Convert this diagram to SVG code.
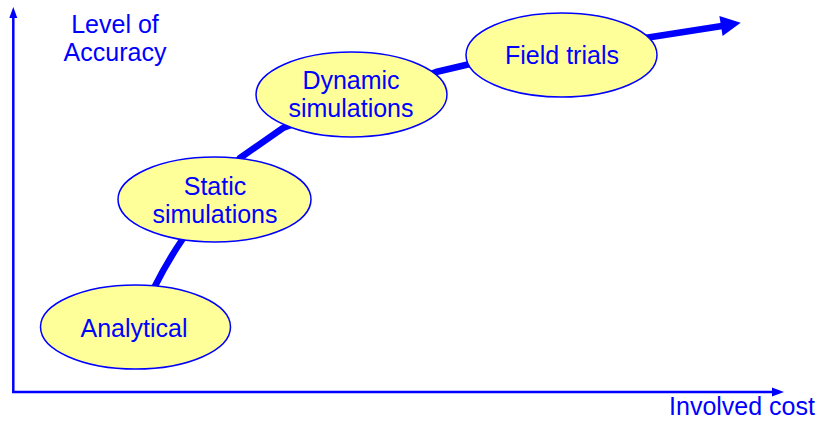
<svg xmlns="http://www.w3.org/2000/svg" width="820" height="421" viewBox="0 0 820 421">
<style>
.t{font-family:"Liberation Sans",Arial,sans-serif;font-size:25px;fill:#0000FF;text-anchor:middle}
.n{fill:#FFFF99;stroke:#0000FF;stroke-width:1.5}
.ax{stroke:#0000FF;stroke-width:2.5;fill:none}
</style>
<rect width="820" height="421" fill="#FFFFFF"/>
<g id="axes">
<line class="ax" x1="13.3" y1="392" x2="13.3" y2="15"/>
<polygon points="13.3,7 9.3,18 17.3,18" fill="#0000FF"/>
<line class="ax" x1="12" y1="392" x2="775" y2="392"/>
<polygon points="784,392 772,387.5 772,396.5" fill="#0000FF"/>
<text class="t" x="115" y="33">Level of</text>
<text class="t" x="115" y="61">Accuracy</text>
<text class="t" x="742" y="415">Involved cost</text>
</g>
<g id="connectors">
<path d="M150,296 L154,288 Q167,262 182,240 L240,158 L283,128 L436,72 L470,64 L645,38 L722,26" fill="none" stroke="#0000FF" stroke-width="6.5" stroke-linejoin="round"/>
<polygon points="740.7,22.8 719.4,16.1 722.6,35.9" fill="#0000FF"/>
</g>
<g id="analytical">
<ellipse class="n" cx="135.5" cy="327" rx="95" ry="42"/>
<text class="t" x="134" y="337">Analytical</text>
</g>
<g id="static">
<ellipse class="n" cx="214.5" cy="199.5" rx="96.5" ry="42.5"/>
<text class="t" x="215" y="195">Static</text>
<text class="t" x="215" y="223">simulations</text>
</g>
<g id="dynamic">
<ellipse class="n" cx="351.5" cy="94.5" rx="95.5" ry="42.5"/>
<text class="t" x="351" y="89">Dynamic</text>
<text class="t" x="351" y="117">simulations</text>
</g>
<g id="field">
<ellipse class="n" cx="561.5" cy="55" rx="95.5" ry="42"/>
<text class="t" x="562" y="64">Field trials</text>
</g>
</svg>
